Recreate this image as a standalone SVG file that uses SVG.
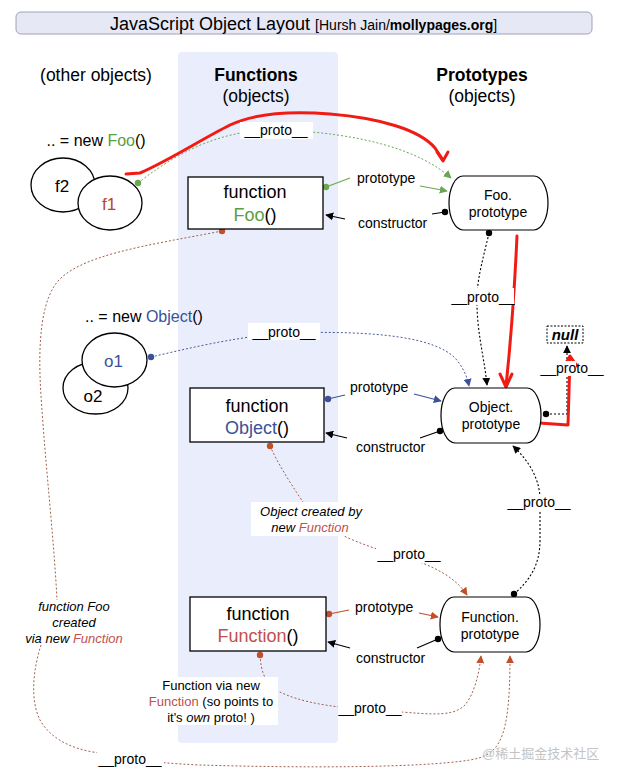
<svg xmlns="http://www.w3.org/2000/svg" width="618" height="781" viewBox="0 0 618 781">
<defs>
<style>
text{font-family:"Liberation Sans",Arial,sans-serif;fill:#000}
.hdr{font-size:17.5px}
.b{font-weight:bold}
.box{fill:#fff;stroke:#000;stroke-width:1.3}
.proto{fill:#fff;stroke:#000;stroke-width:1.2}
.fn{font-size:18px;text-anchor:middle}
.pt{font-size:14px;text-anchor:middle}
.lbl{font-size:14px}
.it{font-size:13px;font-style:italic;text-anchor:middle}
.nt{font-size:13px;text-anchor:middle}
.grn{fill:#5a9e3e}
.blu{fill:#3b5199}
.red{fill:#c0504d}
.f1{fill:#b5482a}
.wm{fill:#c4c4c4;font-family:"Liberation Sans","Noto Sans CJK SC",sans-serif}
.dg{fill:none;stroke:#6aa84f;stroke-width:1;stroke-dasharray:2,2}
.db{fill:none;stroke:#4a5a9a;stroke-width:1;stroke-dasharray:2,2}
.dr{fill:none;stroke:#a0604a;stroke-width:1;stroke-dasharray:2,2}
.dk{fill:none;stroke:#000;stroke-width:1.1;stroke-dasharray:2,2}
.sg{fill:none;stroke:#6aa84f;stroke-width:1.2}
.sb{fill:none;stroke:#3b5199;stroke-width:1.2}
.sr{fill:none;stroke:#c0502a;stroke-width:1.2}
.sk{fill:none;stroke:#000;stroke-width:1.2}
.hand{fill:none;stroke:#f01c14;stroke-width:3;stroke-linecap:round;stroke-linejoin:round}
.wbg{fill:#fff}
</style>
<marker id="ag" viewBox="0 0 10 10" refX="9" refY="5" markerWidth="8" markerHeight="8" orient="auto" markerUnits="userSpaceOnUse"><path d="M0,0 L10,5 L0,10 z" fill="#6aa84f"/></marker>
<marker id="ab" viewBox="0 0 10 10" refX="9" refY="5" markerWidth="8" markerHeight="8" orient="auto" markerUnits="userSpaceOnUse"><path d="M0,0 L10,5 L0,10 z" fill="#3b5199"/></marker>
<marker id="ar" viewBox="0 0 10 10" refX="9" refY="5" markerWidth="8" markerHeight="8" orient="auto" markerUnits="userSpaceOnUse"><path d="M0,0 L10,5 L0,10 z" fill="#c0502a"/></marker>
<marker id="ak" viewBox="0 0 10 10" refX="9" refY="5" markerWidth="8" markerHeight="8" orient="auto" markerUnits="userSpaceOnUse"><path d="M0,0 L10,5 L0,10 z" fill="#000"/></marker>
</defs>
<rect width="618" height="781" fill="#fff"/>
<g id="title">
<rect x="16" y="12" width="576" height="22" rx="5" fill="#e6e8f6" stroke="#a0a2b8" stroke-width="1"/>
<text x="110" y="30" font-size="18">JavaScript Object Layout <tspan font-size="14">[Hursh Jain/</tspan><tspan font-size="14" font-weight="bold">mollypages.org</tspan><tspan font-size="14">]</tspan></text>
</g>
<rect id="functions-column" x="178" y="52" width="160" height="691" rx="4" fill="#eaeefc"/>
<g id="headers">
<text class="hdr" x="96" y="81" text-anchor="middle">(other objects)</text>
<text class="hdr b" x="256" y="81" text-anchor="middle" font-size="18">Functions</text>
<text class="hdr" x="256" y="102" text-anchor="middle">(objects)</text>
<text class="hdr b" x="482" y="81" text-anchor="middle" font-size="18">Prototypes</text>
<text class="hdr" x="482" y="102" text-anchor="middle">(objects)</text>
</g>
<g id="connectors">
<path class="dg" d="M138,183 C190,142 235,129 280,130 C360,133 420,150 451,178" marker-end="url(#ag)"/>
<path class="sg" d="M326,187 L350,178"/>
<path class="sg" d="M420,186 L447,191" marker-end="url(#ag)"/>
<path class="sk" d="M445,212 L432,214"/>
<path class="sk" d="M345,219 L326,215" marker-end="url(#ak)"/>
<path class="dk" d="M489,233 C484,255 478,275 477,295 C476,330 484,355 487,385" marker-end="url(#ak)"/>
<path class="db" d="M151,357 C190,348 230,338 284,333 C380,330 435,338 455,358 C463,367 467,376 469,386" marker-end="url(#ab)"/>
<path class="sb" d="M328,399 L345,395"/>
<path class="sb" d="M414,394 L441,401" marker-end="url(#ab)"/>
<path class="sk" d="M440,431 L420,438"/>
<path class="sk" d="M347,438 L326,433" marker-end="url(#ak)"/>
<path class="dk" d="M546,414 L567,414 L567,346" marker-end="url(#ak)"/>
<path class="dk" d="M514,594 C530,580 540,565 540,540 L540,500 C540,480 530,462 513,446" marker-end="url(#ak)"/>
<path class="dr" d="M270,446 C280,468 295,490 305,505 C320,528 350,540 380,550 C420,560 452,572 467,595" marker-end="url(#ar)"/>
<path class="sr" d="M329,614 L349,610"/>
<path class="sr" d="M419,613 L438,617" marker-end="url(#ar)"/>
<path class="sk" d="M438,639 L417,648"/>
<path class="sk" d="M350,648 L328,642" marker-end="url(#ak)"/>
<path class="dr" d="M260,655 C261,672 265,684 280,692 C300,702 330,707 370,710 C420,712 450,720 465,705 C474,694 479,675 481,656" marker-end="url(#ar)"/>
<path class="dr" d="M222,231 C150,245 75,255 55,285 C38,310 38,360 42,410 C46,470 54,540 57,600"/>
<path class="dr" d="M41,645 C33,670 30,700 40,720 C50,738 70,748 93,752 C130,758 150,763 200,765 C300,768 420,768 470,760 C500,755 510,740 510,656" marker-end="url(#ar)"/>
<path class="hand" d="M126,174 L140,173 C170,160 200,140 230,125 C255,113 290,111 330,114 C380,118 420,130 435,148 L443,160"/>
<path class="hand" d="M437,152 L443,161 L448,152"/>
<path class="hand" d="M517,236 C515,280 512,330 506,386"/>
<path class="hand" d="M500,374 L506,387 L512,374"/>
<path class="hand" d="M539,423 L568,425 L570,357"/>
<path class="hand" d="M563,368 L570,356 L577,366"/>
<circle cx="138" cy="183" r="3.2" fill="#6aa84f"/>
<circle cx="326" cy="187" r="3.2" fill="#6aa84f"/>
<circle cx="445" cy="212" r="3.2" fill="#000"/>
<circle cx="489" cy="233" r="3.2" fill="#000"/>
<circle cx="222" cy="231" r="3.2" fill="#c0502a"/>
<circle cx="151" cy="357" r="3.2" fill="#3b5199"/>
<circle cx="328" cy="399" r="3.2" fill="#3b5199"/>
<circle cx="440" cy="431" r="3.2" fill="#000"/>
<circle cx="546" cy="414" r="3.2" fill="#000"/>
<circle cx="270" cy="446" r="3.2" fill="#c0502a"/>
<circle cx="329" cy="614" r="3.2" fill="#c0502a"/>
<circle cx="438" cy="639" r="3.2" fill="#000"/>
<circle cx="514" cy="594" r="3.2" fill="#000"/>
<circle cx="260" cy="655" r="3.2" fill="#c0502a"/>
</g>
<g id="labels">
<rect class="wbg" x="240" y="122" width="73" height="17"/>
<text class="lbl" x="276" y="135" text-anchor="middle">__proto__</text>
<text class="lbl" x="357" y="183">prototype</text>
<text class="lbl" x="358" y="228">constructor</text>
<rect class="wbg" x="452" y="288" width="62" height="17"/>
<text class="lbl" x="483" y="302" text-anchor="middle">__proto__</text>
<rect class="wbg" x="248" y="323" width="72" height="17"/>
<text class="lbl" x="284" y="337" text-anchor="middle">__proto__</text>
<text class="lbl" x="350" y="392">prototype</text>
<text class="lbl" x="356" y="452">constructor</text>
<rect class="wbg" x="558" y="361" width="18" height="15"/>
<text class="lbl" x="572" y="373" text-anchor="middle">__proto__</text>
<rect class="wbg" x="507" y="494" width="64" height="17"/>
<text class="lbl" x="539" y="507" text-anchor="middle">__proto__</text>
<rect class="wbg" x="251" y="502" width="112" height="34"/>
<text class="it" x="311" y="516">Object created by</text>
<text class="it" x="310" y="532">new <tspan class="red">Function</tspan></text>
<rect class="wbg" x="376" y="546" width="66" height="17"/>
<text class="lbl" x="409" y="559" text-anchor="middle">__proto__</text>
<text class="lbl" x="355" y="612">prototype</text>
<text class="lbl" x="356" y="663">constructor</text>
<rect class="wbg" x="160" y="677" width="118" height="48"/>
<text class="nt" x="211" y="690">Function via new</text>
<text class="nt" x="211" y="706"><tspan class="red">Function</tspan> (so points to</text>
<text class="nt" x="211" y="722">it's <tspan font-style="italic">own</tspan> proto! )</text>
<rect class="wbg" x="338" y="700" width="64" height="17"/>
<text class="lbl" x="370" y="713" text-anchor="middle">__proto__</text>
<text class="it" x="74" y="611">function Foo</text>
<text class="it" x="74" y="627">created</text>
<text class="it" x="74" y="643">via new <tspan class="red">Function</tspan></text>
<rect class="wbg" x="97" y="751" width="67" height="17"/>
<text class="lbl" x="130" y="764" text-anchor="middle">__proto__</text>
</g>
<g id="foo-instances">
<text x="46.5" y="146" font-size="16">.. = new <tspan class="grn">Foo</tspan>()</text>
<ellipse cx="63" cy="185" rx="32" ry="27" class="box" stroke-width="1.1"/>
<text x="62" y="192" font-size="17" text-anchor="middle">f2</text>
<ellipse cx="110" cy="203" rx="32" ry="27" class="box" stroke-width="1.1"/>
<text x="109" y="210" font-size="17" text-anchor="middle" class="f1">f1</text>
</g>
<g id="object-instances">
<text x="85" y="322" font-size="16">.. = new <tspan class="blu">Object</tspan>()</text>
<ellipse cx="95.5" cy="388" rx="32.5" ry="26" class="box" stroke-width="1.1"/>
<text x="93" y="402" font-size="17" text-anchor="middle">o2</text>
<ellipse cx="114.5" cy="360" rx="32.5" ry="27" class="box" stroke-width="1.1"/>
<text x="113.5" y="367" font-size="17" text-anchor="middle" class="blu">o1</text>
</g>
<g id="fn-foo">
<rect class="box" x="188" y="177" width="135" height="52"/>
<text class="fn" x="255" y="198">function</text>
<text class="fn" x="255" y="221"><tspan class="grn">Foo</tspan>()</text>
</g>
<g id="fn-object">
<rect class="box" x="190" y="388" width="134" height="54"/>
<text class="fn" x="257" y="412">function</text>
<text class="fn" x="257" y="434"><tspan class="blu">Object</tspan>()</text>
</g>
<g id="fn-function">
<rect class="box" x="190" y="597" width="136" height="54"/>
<text class="fn" x="258" y="620">function</text>
<text class="fn" x="258" y="642"><tspan class="red">Function</tspan>()</text>
</g>
<g id="foo-prototype">
<rect class="proto" x="449" y="176" width="99" height="54" rx="14" ry="27"/>
<text class="pt" x="498" y="200">Foo.</text>
<text class="pt" x="498" y="217">prototype</text>
</g>
<g id="object-prototype">
<rect class="proto" x="441" y="388" width="100" height="55" rx="14" ry="27"/>
<text class="pt" x="491" y="412">Object.</text>
<text class="pt" x="491" y="429">prototype</text>
</g>
<g id="function-prototype">
<rect class="proto" x="440" y="597" width="100" height="55" rx="14" ry="27"/>
<text class="pt" x="490" y="622">Function.</text>
<text class="pt" x="490" y="639">prototype</text>
</g>
<g id="null">
<rect x="547" y="326" width="36" height="17" fill="#fff" stroke="#000" stroke-width="1" stroke-dasharray="2,1.5"/>
<text x="565" y="340" font-size="15" font-weight="bold" font-style="italic" text-anchor="middle">null</text>
</g>
<text class="wm" x="482" y="758" font-size="13">@稀土掘金技术社区</text>
</svg>
